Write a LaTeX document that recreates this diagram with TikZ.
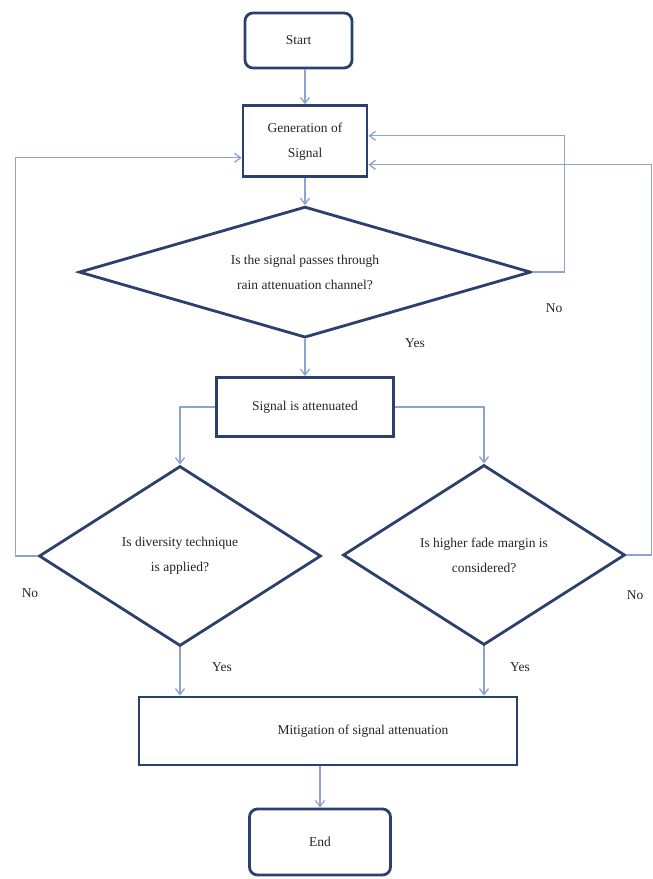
\documentclass[tikz,border=0pt]{standalone}
\usepackage{fontspec}
\setmainfont{Liberation Serif}
\usetikzlibrary{arrows.meta,positioning,shapes.geometric}

\definecolor{boxline}{RGB}{44,64,110}
\definecolor{flowline}{RGB}{142,163,208}

\begin{document}
\begin{tikzpicture}[x=1pt,y=-1pt,
  every node/.style={font=\fontsize{13.5}{25}\selectfont,align=center,text=black!85},
  procbox/.style={draw=boxline,line width=2.8pt,minimum width=124pt,minimum height=71pt,inner sep=2pt},
  termbox/.style={procbox,rounded corners=8pt},
  decision/.style={diamond,draw=boxline,line width=2.8pt,inner sep=0pt},
  flow/.style={draw=flowline,line width=1.3pt,-{Straight Barb[length=6pt,width=9pt]}},
  tag/.style={inner sep=0pt}]
  \fill[white] (0,0) rectangle (653,879);
  \node[termbox,minimum width=107pt,minimum height=55pt] (start) at (298.5,40.5) {Start};
  \node[procbox,below=35pt of start,xshift=6.5pt] (gen) {Generation of\\Signal};
  \node[decision,below=27pt of gen,aspect=3.45,minimum width=452pt,minimum height=131pt] (q1) {Is the signal passes through\\rain attenuation channel?};
  \node[procbox,below=37pt of q1,minimum width=177pt,minimum height=59pt] (att) {Signal is attenuated};
  \node[decision,aspect=1.57,minimum width=282pt,minimum height=180pt] (q2) at (180,556) {Is diversity technique\\is applied?};
  \node[decision,aspect=1.57,minimum width=282pt,minimum height=180pt] (q3) at (484,555) {Is higher fade margin is\\considered?};
  \node[procbox,minimum width=378pt,minimum height=68pt] (mit) at (328,731) {\hspace*{70pt}Mitigation of signal attenuation};
  \node[termbox,minimum width=141pt,minimum height=66pt] (end) at (320,842) {End};

  \node[tag] (yes1) at (415,343) {Yes};
  \node[tag] (no1) at (554,308) {No};
  \node[tag] (no2) at (30,593) {No};
  \node[tag] (no3) at (635,595) {No};
  \node[tag] (yes2) at (222,667) {Yes};
  \node[tag] (yes3) at (520,667) {Yes};

  \draw[flow] (start.south -| gen.north) -- (gen.north);
  \draw[flow] (gen) -- (q1);
  \draw[flow] (q1) -- (att);
  \draw[flow] (q1.east) -- ++(32,0) |- ([yshift=5.5pt]gen.east);
  \draw[flow] (att.west) -| (q2.north);
  \draw[flow] (att.east) -| (q3.north);
  \draw[flow] (q2.west) -- ++(-22,0) |- ([yshift=-16.5pt]gen.west);
  \draw[flow] (q3.east) -- ++(25,0) |- ([yshift=-23.5pt]gen.east);
  \draw[flow] (q2.south) -- (q2.south |- mit.north);
  \draw[flow] (q3.south) -- (q3.south |- mit.north);
  \draw[flow] (mit.south -| end.north) -- (end.north);
\end{tikzpicture}
\end{document}
